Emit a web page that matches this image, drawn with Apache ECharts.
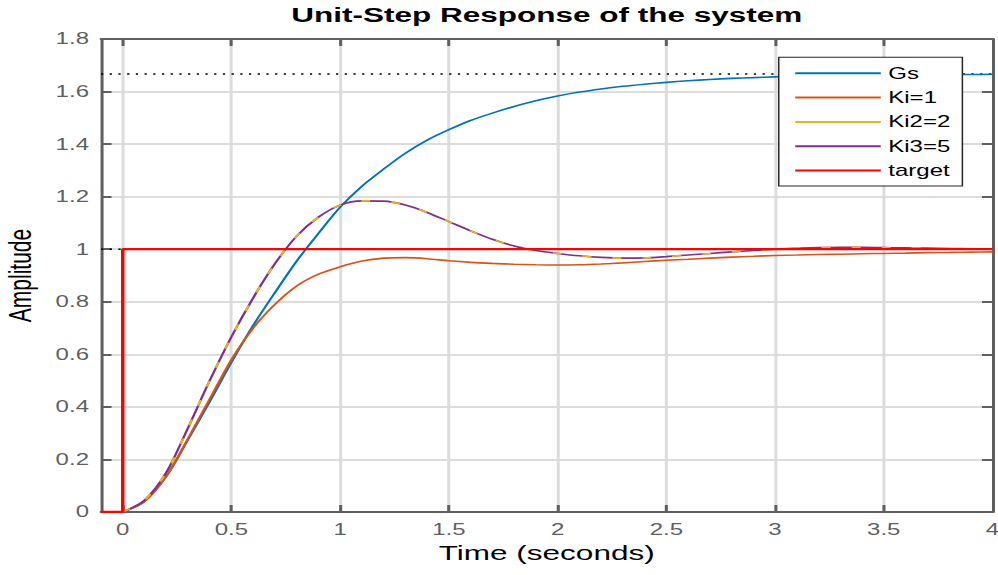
<!DOCTYPE html>
<html><head><meta charset="utf-8">
<script src="https://cdn.jsdelivr.net/npm/echarts@6/dist/echarts.min.js"></script>
<style>
html,body{margin:0;padding:0;background:#fff;overflow:hidden;}
#c{width:665px;height:575px;transform:scaleX(1.50075);transform-origin:0 0;}
</style></head><body><div id="c"></div>
<script>
// time samples (seconds)
const time = [0,0.1,0.2,0.3,0.4,0.5,0.6,0.7,0.8,0.9,1.0,1.1,1.2,1.3,1.4,1.5,1.6,1.7,1.8,1.9,2.0,
              2.1,2.2,2.3,2.4,2.5,2.6,2.7,2.8,2.9,3.0,3.1,3.2,3.3,3.4,3.5,3.6,3.7,3.8,3.9,4.0];
// Gs step response
const gs = [0,0.04,0.135,0.275,0.42,0.57,0.71,0.835,0.955,1.06,1.16,1.24,1.305,1.365,1.415,1.455,1.49,1.518,1.543,1.565,1.583,
            1.598,1.610,1.620,1.628,1.635,1.641,1.646,1.650,1.653,1.656,1.658,1.660,1.661,1.662,1.663,1.664,1.664,1.665,1.665,1.666];
// Ki=1
const ki1 = [0,0.04,0.135,0.28,0.43,0.58,0.70,0.79,0.86,0.905,0.933,0.955,0.966,0.968,0.964,0.956,0.950,0.946,0.943,0.941,0.940,
             0.941,0.944,0.948,0.953,0.958,0.962,0.966,0.970,0.973,0.976,0.978,0.980,0.981,0.983,0.984,0.985,0.987,0.988,0.989,0.990];
// Ki2=2
const ki2 = [0,0.045,0.15,0.32,0.50,0.667,0.815,0.945,1.05,1.122,1.168,1.184,1.183,1.168,1.14,1.105,1.07,1.038,1.012,0.995,0.984,
             0.975,0.969,0.966,0.967,0.972,0.978,0.984,0.990,0.995,1.0,1.004,1.006,1.007,1.007,1.006,1.005,1.004,1.003,1.002,1.001];
// Ki3=5
const ki3 = [0,0.045,0.15,0.32,0.50,0.667,0.815,0.945,1.05,1.122,1.168,1.184,1.183,1.168,1.14,1.105,1.07,1.038,1.012,0.995,0.984,
             0.975,0.969,0.966,0.967,0.972,0.978,0.984,0.990,0.995,1.0,1.004,1.006,1.007,1.007,1.006,1.005,1.004,1.003,1.002,1.001];
// target step
const targetT = [-0.1, 0, 0, 4];
const targetV = [0, 0, 1, 1];
// steady-state levels (dotted)
const finalGs = 1.6667;
const finalK = 1;
const xTicks = [0,0.5,1,1.5,2,2.5,3,3.5,4];
const xRange = [-0.1, 4];
const yRange = [0, 1.8];
const yStep = 0.2;
const names = ['Gs','Ki=1','Ki2=2','Ki3=5','target'];
const colors = ['#0072BD','#D95319','#EDB120','#7E2F8E','#FF0000'];

const FF = '"Liberation Sans", Arial, Helvetica, sans-serif';
const axisColor = '#5f5f5f';
const labelColor = '#5f5f5f';
const gridColor = '#dcdcdc';

const pairs = (xs, ys) => xs.map((x, i) => [x, ys[i]]);

const chart = echarts.init(document.getElementById('c'), null, {renderer: 'svg'});
const axLine = {show: true, onZero: false, lineStyle: {color: axisColor, width: 2}};
const option = {
  animation: false,
  backgroundColor: '#fff',
  title: {
    text: 'Unit-Step Response of the system',
    left: 364.3, top: 4, textAlign: 'center', padding: 0,
    textStyle: {fontFamily: FF, fontSize: 21, fontWeight: 'bold', color: '#000'}
  },
  grid: {left: 67.3, right: 3.7, top: 39, bottom: 63, containLabel: false, outerBoundsMode: 'none'},
  legend: {
    orient: 'vertical', left: 518.9, top: 57.3,
    padding: [8, 8, 7.5, 11], itemWidth: 57, itemHeight: 2, itemGap: 8.3,
    backgroundColor: '#fff', borderColor: '#262626', borderWidth: 1, borderRadius: 0,
    textStyle: {fontFamily: FF, fontSize: 16, color: '#000'},
    data: names.map((n, i) => ({name: n, icon: 'rect', itemStyle: {color: colors[i]}}))
  },
  xAxis: [
    {type: 'value', min: xRange[0], max: xRange[1], position: 'bottom',
     axisLine: axLine,
     axisTick: {show: true, inside: true, length: 7, customValues: xTicks, lineStyle: {color: axisColor, width: 2}},
     axisLabel: {customValues: xTicks, margin: 10, color: labelColor, fontSize: 16, fontFamily: FF},
     splitLine: {show: true, lineStyle: {color: gridColor, width: 2}},
     name: 'Time (seconds)', nameLocation: 'middle', nameGap: 24,
     nameTextStyle: {fontFamily: FF, fontSize: 21, color: '#000'}},
    {type: 'value', min: xRange[0], max: xRange[1], position: 'top',
     axisLine: axLine,
     axisTick: {show: true, inside: true, length: 7, customValues: xTicks, lineStyle: {color: axisColor, width: 2}},
     axisLabel: {show: false}, splitLine: {show: false}}
  ],
  yAxis: [
    {type: 'value', min: yRange[0], max: yRange[1], interval: yStep, position: 'left',
     axisLine: axLine,
     axisTick: {show: true, inside: true, length: 7, lineStyle: {color: axisColor, width: 2}},
     axisLabel: {margin: 8, color: labelColor, fontSize: 16, fontFamily: FF},
     splitLine: {show: true, lineStyle: {color: gridColor, width: 2}},
     name: 'Amplitude', nameLocation: 'middle', nameGap: 43,
     nameTextStyle: {fontFamily: FF, fontSize: 21, color: '#000'}},
    {type: 'value', min: yRange[0], max: yRange[1], interval: yStep, position: 'right',
     axisLine: axLine,
     axisTick: {show: true, inside: true, length: 7, lineStyle: {color: axisColor, width: 2}},
     axisLabel: {show: false}, splitLine: {show: false}}
  ],
  series: [
    {type: 'line', data: [[xRange[0], finalGs], [xRange[1], finalGs]], symbol: 'none', silent: true, z: 1,
     lineStyle: {color: '#000', width: 1.5, type: [1.5, 4.3]}},
    {type: 'line', data: [[xRange[0], finalK], [xRange[1], finalK]], symbol: 'none', silent: true, z: 1,
     lineStyle: {color: '#000', width: 1.5, type: [1.5, 4.3]}},
    {name: names[0], type: 'line', data: pairs(time, gs), symbol: 'none', smooth: 0.3, color: colors[0],
     lineStyle: {color: colors[0], width: 1.6}},
    {name: names[1], type: 'line', data: pairs(time, ki1), symbol: 'none', smooth: 0.3, color: colors[1],
     lineStyle: {color: colors[1], width: 1.6}},
    {name: names[3], type: 'line', data: pairs(time, ki3), symbol: 'none', smooth: 0.3, color: colors[3],
     lineStyle: {color: colors[3], width: 1.6}},
    {name: names[2], type: 'line', data: pairs(time, ki2), symbol: 'none', smooth: 0.3, color: colors[2],
     lineStyle: {color: colors[2], width: 1.6, type: [6, 14]}},
    {name: names[4], type: 'line', data: pairs(targetT, targetV), symbol: 'none', color: colors[4],
     lineStyle: {color: colors[4], width: 2.3}}
  ]
};
chart.setOption(option);
</script></body></html>
